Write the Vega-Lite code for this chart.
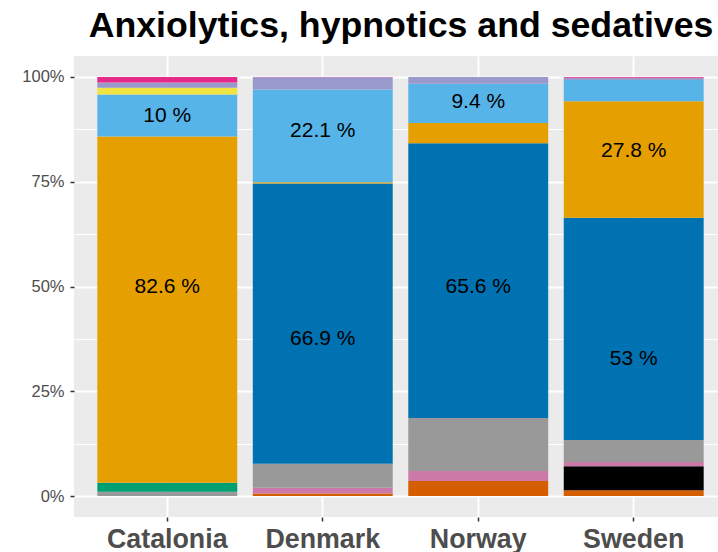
{
  "$schema": "https://vega.github.io/schema/vega-lite/v6.json",
  "autosize": "none",
  "padding": {"left": 74, "top": 56, "right": 0, "bottom": 35},
  "width": 644,
  "height": 461,
  "background": "white",
  "title": {
    "text": "Anxiolytics, hypnotics and sedatives",
    "font": "Liberation Sans",
    "fontSize": 35.7,
    "fontWeight": "bold",
    "color": "#000000",
    "anchor": "middle",
    "baseline": "alphabetic",
    "offset": -17,
    "dx": 5
  },
  "config": {
    "view": {"fill": "#EBEBEB", "stroke": null},
    "axis": {"labelFont": "Liberation Sans", "titleFont": "Liberation Sans"}
  },
  "data": {
    "values": [
      {"country": "Catalonia", "group": "g04", "pct": 1.0, "lab": "", "laby": null},
      {"country": "Catalonia", "group": "g05", "pct": 2.2, "lab": "", "laby": null},
      {"country": "Catalonia", "group": "g07", "pct": 82.6, "lab": "82.6 %", "laby": 49.8},
      {"country": "Catalonia", "group": "g08", "pct": 10.0, "lab": "10 %", "laby": 90.7},
      {"country": "Catalonia", "group": "g09", "pct": 1.6, "lab": "", "laby": null},
      {"country": "Catalonia", "group": "g10", "pct": 1.3, "lab": "", "laby": null},
      {"country": "Catalonia", "group": "g11", "pct": 1.3, "lab": "", "laby": null},
      {"country": "Denmark", "group": "g01", "pct": 0.6, "lab": "", "laby": null},
      {"country": "Denmark", "group": "g03", "pct": 1.4, "lab": "", "laby": null},
      {"country": "Denmark", "group": "g04", "pct": 5.7, "lab": "", "laby": null},
      {"country": "Denmark", "group": "g06", "pct": 66.9, "lab": "66.9 %", "laby": 37.5},
      {"country": "Denmark", "group": "g07", "pct": 0.3, "lab": "", "laby": null},
      {"country": "Denmark", "group": "g08", "pct": 22.1, "lab": "22.1 %", "laby": 87.1},
      {"country": "Denmark", "group": "g10", "pct": 2.9, "lab": "", "laby": null},
      {"country": "Denmark", "group": "g11", "pct": 0.1, "lab": "", "laby": null},
      {"country": "Norway", "group": "g01", "pct": 3.6, "lab": "", "laby": null},
      {"country": "Norway", "group": "g03", "pct": 2.4, "lab": "", "laby": null},
      {"country": "Norway", "group": "g04", "pct": 12.6, "lab": "", "laby": null},
      {"country": "Norway", "group": "g06", "pct": 65.6, "lab": "65.6 %", "laby": 49.9},
      {"country": "Norway", "group": "g07", "pct": 4.8, "lab": "", "laby": null},
      {"country": "Norway", "group": "g08", "pct": 9.4, "lab": "9.4 %", "laby": 94.1},
      {"country": "Norway", "group": "g10", "pct": 1.6, "lab": "", "laby": null},
      {"country": "Sweden", "group": "g01", "pct": 1.4, "lab": "", "laby": null},
      {"country": "Sweden", "group": "g02", "pct": 5.7, "lab": "", "laby": null},
      {"country": "Sweden", "group": "g03", "pct": 1.0, "lab": "", "laby": null},
      {"country": "Sweden", "group": "g04", "pct": 5.3, "lab": "", "laby": null},
      {"country": "Sweden", "group": "g06", "pct": 53.0, "lab": "53 %", "laby": 32.7},
      {"country": "Sweden", "group": "g07", "pct": 27.8, "lab": "27.8 %", "laby": 82.3},
      {"country": "Sweden", "group": "g08", "pct": 5.1, "lab": "", "laby": null},
      {"country": "Sweden", "group": "g10", "pct": 0.5, "lab": "", "laby": null},
      {"country": "Sweden", "group": "g11", "pct": 0.2, "lab": "", "laby": null}
    ]
  },
  "layer": [
    {
      "transform": [
        {"stack": "pct", "groupby": ["country"], "sort": [{"field": "group", "order": "ascending"}], "as": ["y0", "y1"], "offset": "zero"}
      ],
      "mark": {"type": "bar", "strokeWidth": 0},
      "encoding": {
        "x": {
          "field": "country",
          "type": "nominal",
          "sort": ["Catalonia", "Denmark", "Norway", "Sweden"],
          "scale": {"paddingInner": 0.1, "paddingOuter": 0.15, "range": [0, 653]},
          "axis": {
            "title": null,
            "labelAngle": 0,
            "labelFont": "Liberation Sans",
            "labelFontSize": 26.8,
            "labelFontWeight": "bold",
            "labelColor": "#4D4D4D",
            "labelBaseline": "alphabetic",
            "labelPadding": 26,
            "tickSize": 4,
            "tickColor": "#333333",
            "tickWidth": 1.5,
            "domain": false,
            "grid": true,
            "gridColor": "#FFFFFF",
            "gridWidth": 2,
            "bandPosition": 0.5
          }
        },
        "y": {
          "field": "y0",
          "type": "quantitative",
          "scale": {"domain": [-5, 105], "nice": false, "zero": false},
          "axis": {
            "title": null,
            "values": [0, 12.5, 25, 37.5, 50, 62.5, 75, 87.5, 100],
            "labelExpr": "datum.value % 25 === 0 ? datum.value + '%' : ''",
            "labelFont": "Liberation Sans",
            "labelFontSize": 16.5,
            "labelColor": "#4D4D4D",
            "labelPadding": 6,
            "tickSize": 4,
            "tickColor": "#333333",
            "tickWidth": 1.5,
            "tickOpacity": {"condition": {"test": "datum.value % 25 === 0", "value": 1}, "value": 0},
            "domain": false,
            "grid": true,
            "gridColor": "#FFFFFF",
            "gridWidth": {"condition": {"test": "datum.value % 25 === 0", "value": 2}, "value": 1}
          }
        },
        "y2": {"field": "y1"},
        "color": {
          "field": "group",
          "type": "nominal",
          "legend": null,
          "scale": {
            "domain": ["g01", "g02", "g03", "g04", "g05", "g06", "g07", "g08", "g09", "g10", "g11"],
            "range": ["#D55E00", "#000000", "#CC79A7", "#999999", "#009E73", "#0072B2", "#E69F00", "#56B4E9", "#F0E442", "#9999CC", "#E7298A"]
          }
        }
      }
    },
    {
      "transform": [{"filter": "datum.lab != ''"}],
      "mark": {"type": "text", "font": "Liberation Sans", "fontSize": 21, "color": "#000000", "baseline": "middle", "align": "center"},
      "encoding": {
        "x": {"field": "country", "type": "nominal", "sort": ["Catalonia", "Denmark", "Norway", "Sweden"]},
        "y": {"field": "laby", "type": "quantitative"},
        "text": {"field": "lab", "type": "nominal"}
      }
    }
  ]
}
